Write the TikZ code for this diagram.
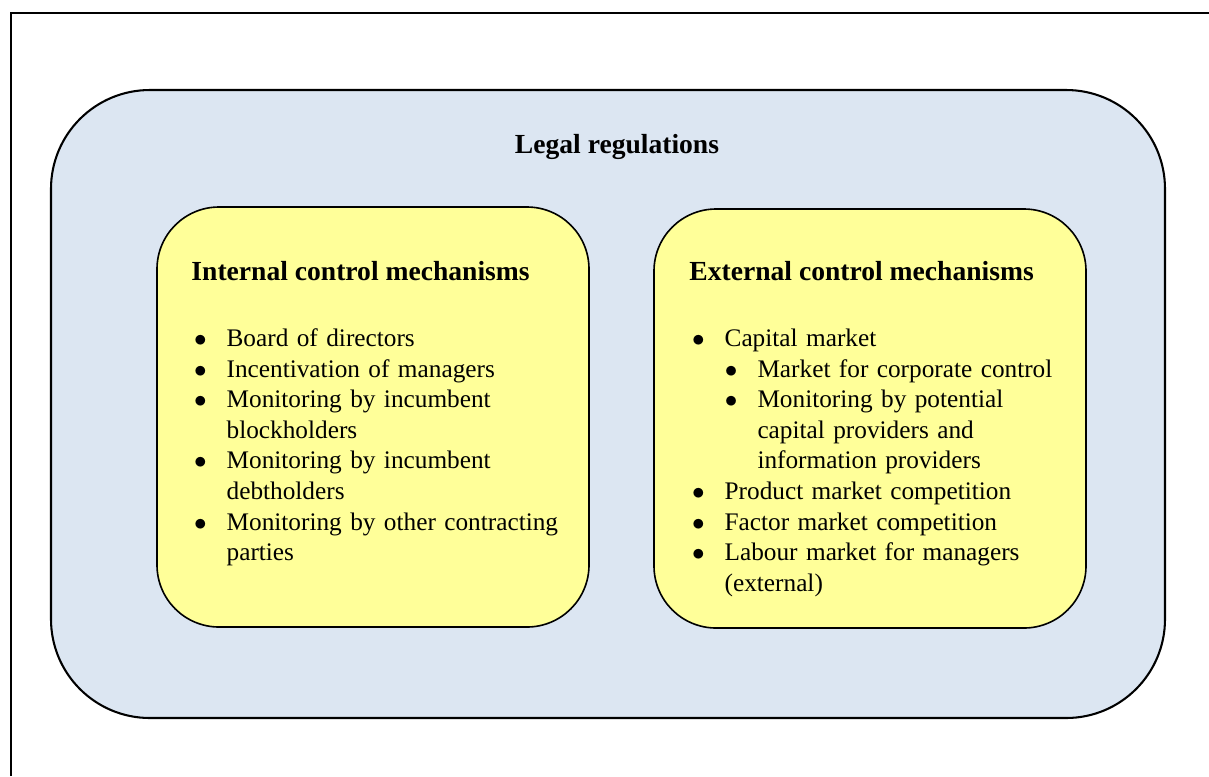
\documentclass[tikz,border=0pt]{standalone}
\usepackage{fontspec}
\setmainfont{Liberation Serif}
\usepackage{tikz}
\usetikzlibrary{positioning}

\definecolor{legalblue}{RGB}{220,230,242}
\definecolor{mechyellow}{RGB}{255,255,153}

% bullet lines with a hanging indent
\newcommand{\bpoint}[1]{\par\hangindent=15.3pt\hangafter=1\noindent\hbox to 15.3pt{\hspace{1.2pt}$\bullet$\hfil}#1}
\newcommand{\bsubpoint}[1]{\par\hangindent=29.6pt\hangafter=1\noindent\hbox to 29.6pt{\hspace{15.4pt}$\bullet$\hfil}#1}

\begin{document}
\begin{tikzpicture}[x=0.435pt,y=-0.435pt,
  frame/.style={line width=0.8pt},
  legalbox/.style={draw, line width=0.9pt, fill=legalblue, rounded corners=43pt},
  mechbox/.style={draw, line width=0.7pt, fill=mechyellow, rounded corners=27pt},
  head/.style={font=\fontsize{12}{14}\selectfont\bfseries, inner sep=0pt},
  items/.style={font=\fontsize{11}{13.3}\selectfont, text width=161pt, align=left, inner sep=0pt,
    execute at begin node={\hyphenpenalty=10000 }}]
  \useasboundingbox (0,0) rectangle (1209,776);
  \draw[frame] (11,776) -- (11,13) -- (1209,13);

  \draw[legalbox] (51,90) rectangle (1165,718);
  \node[head, anchor=base] (legal) at (617,153) {Legal regulations};

  \draw[mechbox] (157,207) rectangle (589,627);
  \draw[mechbox] (654,209) rectangle (1086,628);

  \node[head, anchor=base west] (inhead) at (191,280) {Internal control mechanisms};
  \node[items, anchor=base west] (inlist) at (191,316) {%
    \bpoint{Board of directors}
    \bpoint{Incentivation of managers}
    \bpoint{Monitoring by incumbent blockholders}
    \bpoint{Monitoring by incumbent debtholders}
    \bpoint{Monitoring by other contracting parties}\par};

  \node[head, anchor=base west] (exhead) at (689,280) {External control mechanisms};
  \node[items, anchor=base west] (exlist) at (689,316) {%
    \bpoint{Capital market}
    \bsubpoint{Market for corporate control}
    \bsubpoint{Monitoring by potential capital providers and information providers}
    \bpoint{Product market competition}
    \bpoint{Factor market competition}
    \bpoint{Labour market for managers (external)}\par};
\end{tikzpicture}
\end{document}
